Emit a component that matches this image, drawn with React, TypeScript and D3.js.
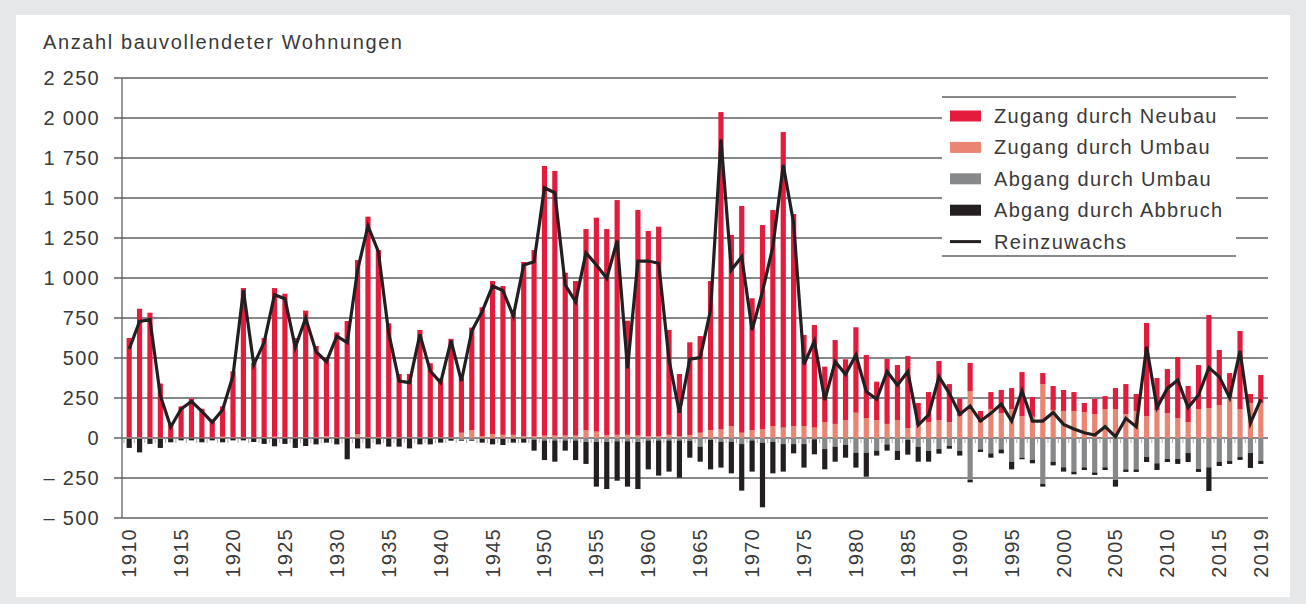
import React from 'react';
import * as d3 from 'd3';

// Jahre 1910–2019
const years = d3.range(1910, 2020);

// Zugang durch Neubau
const neubau = [
  620, 803, 778, 337, 93, 195, 243, 180, 112, 190,
  412, 932, 464, 620, 929, 897, 620, 791, 570, 494,
  655, 726, 1087, 1378, 1170, 712, 395, 395, 670, 462,
  368, 615, 342, 640, 807, 956, 930, 765, 1090, 1165,
  1685, 1654, 1018, 966, 1256, 1337, 1287, 1467, 713, 1410,
  1284, 1311, 655, 390, 579, 604, 931, 1983, 1194, 1417,
  823, 1275, 1350, 1847, 1325, 569, 641, 346, 524, 380,
  534, 394, 240, 406, 344, 450, 138, 187, 369, 237,
  109, 175, 69, 108, 146, 131, 275, 123, 69, 150,
  131, 118, 57, 94, 81, 131, 187, 106, 582, 200,
  275, 381, 225, 275, 582, 344, 156, 488, 56, 175,
];

// Zugang durch Umbau
const zugangUmbau = [
  5, 5, 5, 3, 2, 3, 3, 3, 3, 8,
  5, 5, 5, 5, 8, 5, 5, 5, 5, 10,
  5, 5, 25, 5, 5, 5, 5, 5, 5, 5,
  5, 5, 33, 50, 10, 25, 20, 20, 10, 10,
  15, 15, 15, 15, 50, 40, 19, 20, 20, 15,
  10, 10, 20, 10, 19, 33, 50, 54, 75, 33,
  50, 56, 75, 65, 75, 75, 65, 100, 88, 112,
  158, 125, 112, 88, 112, 62, 81, 100, 112, 100,
  137, 294, 100, 179, 154, 181, 137, 133, 337, 175,
  169, 169, 162, 150, 181, 181, 150, 169, 137, 175,
  156, 125, 100, 181, 187, 206, 250, 181, 219, 219,
];

// Abgang durch Umbau (Betrag)
const abgangUmbau = [
  5, 5, 5, 5, 3, 3, 3, 3, 3, 3,
  3, 3, 3, 3, 3, 3, 3, 3, 3, 3,
  3, 3, 3, 3, 3, 3, 3, 3, 3, 3,
  3, 5, 12, 12, 5, 5, 5, 5, 5, 10,
  15, 15, 15, 15, 25, 25, 25, 20, 20, 25,
  15, 15, 15, 15, 17, 54, 12, 23, 23, 38,
  15, 29, 23, 38, 38, 38, 8, 69, 54, 42,
  92, 92, 79, 40, 81, 12, 54, 81, 69, 50,
  81, 262, 71, 96, 71, 148, 123, 137, 287, 148,
  183, 210, 183, 215, 183, 262, 196, 196, 119, 158,
  131, 131, 94, 194, 183, 148, 144, 119, 94, 144,
];

// Abgang durch Abbruch (Betrag)
const abgangAbbruch = [
  57, 85, 32, 57, 24, 12, 12, 24, 12, 24,
  12, 12, 22, 34, 49, 34, 59, 47, 37, 26,
  37, 130, 62, 62, 37, 51, 51, 62, 37, 37,
  26, 12, 5, 5, 24, 35, 39, 24, 24, 69,
  123, 133, 64, 123, 137, 279, 294, 247, 284, 294,
  181, 220, 195, 233, 106, 94, 184, 162, 198, 291,
  195, 404, 198, 172, 58, 147, 94, 127, 94, 81,
  93, 150, 31, 39, 56, 92, 94, 67, 29, 17,
  29, 15, 16, 27, 25, 48, 10, 21, 17, 23,
  27, 17, 17, 16, 17, 42, 16, 16, 31, 42,
  19, 31, 56, 18, 148, 27, 18, 18, 93, 18,
];

// Reinzuwachs
const reinzuwachs = [
  556, 729, 740, 265, 69, 181, 229, 167, 98, 177,
  390, 923, 458, 598, 896, 871, 567, 750, 540, 477,
  637, 596, 1050, 1325, 1164, 654, 356, 346, 648, 419,
  346, 608, 356, 669, 790, 950, 921, 762, 1081, 1102,
  1564, 1533, 956, 852, 1158, 1081, 998, 1233, 435, 1106,
  1106, 1092, 487, 158, 492, 502, 800, 1866, 1050, 1133,
  675, 915, 1196, 1706, 1342, 460, 606, 237, 477, 398,
  519, 290, 242, 415, 331, 415, 81, 144, 383, 279,
  148, 200, 106, 154, 212, 106, 294, 106, 106, 160,
  85, 56, 33, 19, 71, 8, 123, 71, 571, 190,
  310, 362, 190, 269, 440, 383, 252, 544, 92, 242,
];

const yTicks = [-500, -250, 0, 250, 500, 750, 1000, 1250, 1500, 1750, 2000, 2250];
const xLabels = [1910, 1915, 1920, 1925, 1930, 1935, 1940, 1945, 1950, 1955, 1960,
  1965, 1970, 1975, 1980, 1985, 1990, 1995, 2000, 2005, 2010, 2015, 2019];

const legendItems = [
  { label: 'Zugang durch Neubau', color: '#e31c3d', type: 'rect' },
  { label: 'Zugang durch Umbau', color: '#ea8573', type: 'rect' },
  { label: 'Abgang durch Umbau', color: '#87888a', type: 'rect' },
  { label: 'Abgang durch Abbruch', color: '#231f20', type: 'rect' },
  { label: 'Reinzuwachs', color: '#231f20', type: 'line' },
];

const W = 1306;
const H = 604;
const FONT = '"Liberation Sans", Arial, sans-serif';
const TEXT = '#3a3a3a';
const GRID = '#5f6062';

// "2 250", "– 250"
const fmtTick = (t: number) => {
  const s = d3.format(',')(Math.abs(t)).replace(/,/g, ' ');
  return t < 0 ? '– ' + s : s;
};

export default function App() {
  const x = d3.scaleBand<number>()
    .domain(years)
    .range([124, 1266])
    .paddingInner(0.5)
    .paddingOuter(0.25);

  const y = d3.scaleLinear().domain([-500, 2250]).range([518, 78]);
  const bw = x.bandwidth();
  const cx = (yr: number) => (x(yr) || 0) + bw / 2;

  const line = d3.line<number>()
    .x((_, i) => cx(years[i]))
    .y(d => y(d));

  const textStyle = { fontFamily: FONT, fontSize: 20, letterSpacing: 1.3, fill: TEXT } as const;

  return (
    <svg width={W} height={H} style={{ position: 'absolute', left: 0, top: 0 }}>
      <rect x={0} y={0} width={W} height={H} fill="#e6e7e8" />
      <rect x={16} y={15} width={1274} height={582} fill="#ffffff" />

      {/* title */}
      <text x={43} y={49} {...textStyle} letterSpacing={1.6}>Anzahl bauvollendeter Wohnungen</text>

      {/* gridlines + y labels */}
      {yTicks.map(t => (
        <g key={t}>
          <line x1={114} x2={1268} y1={y(t)} y2={y(t)} stroke={GRID} strokeWidth={1.3} />
          <text x={100} y={y(t)} dy="0.35em" textAnchor="end" {...textStyle}>{fmtTick(t)}</text>
        </g>
      ))}
      <line x1={122} x2={122} y1={y(2250)} y2={y(-500)} stroke={GRID} strokeWidth={1.3} />

      {/* small ticks on the zero line */}
      {years.map(yr => (
        <line key={'t' + yr} x1={(x(yr) || 0) - (x.step() - bw) / 2} x2={(x(yr) || 0) - (x.step() - bw) / 2}
          y1={y(0)} y2={y(0) + 5} stroke="#a7a9ac" strokeWidth={1} />
      ))}

      {/* bars */}
      {years.map((yr, i) => {
        const bx = x(yr) || 0;
        const u = zugangUmbau[i];
        const n = neubau[i];
        const g = abgangUmbau[i];
        const a = abgangAbbruch[i];
        return (
          <g key={yr}>
            <rect x={bx} width={bw} y={y(u)} height={y(0) - y(u)} fill="#ea8573" />
            <rect x={bx} width={bw} y={y(u + n)} height={y(u) - y(u + n)} fill="#e31c3d" />
            <rect x={bx} width={bw} y={y(0)} height={y(-g) - y(0)} fill="#87888a" />
            <rect x={bx} width={bw} y={y(-g)} height={y(-g - a) - y(-g)} fill="#231f20" />
          </g>
        );
      })}

      {/* Reinzuwachs */}
      <path d={line(reinzuwachs) || ''} fill="none" stroke="#231f20" strokeWidth={3.2} strokeLinejoin="miter" />

      {/* x labels */}
      {xLabels.map(yr => (
        <text key={'l' + yr} transform={`translate(${cx(yr)},528) rotate(-90)`} dy="0.35em"
          textAnchor="end" {...textStyle}>{yr}</text>
      ))}

      {/* legend */}
      <rect x={942} y={97} width={294} height={159} fill="#ffffff" />
      <line x1={942} x2={1236} y1={97} y2={97} stroke={GRID} strokeWidth={1.3} />
      <line x1={942} x2={1236} y1={256} y2={256} stroke={GRID} strokeWidth={1.3} />
      {legendItems.map((it, i) => {
        const cy = 116 + i * 31.4;
        return (
          <g key={it.label}>
            {it.type === 'rect'
              ? <rect x={950} y={cy - 5.5} width={31} height={11} fill={it.color} />
              : <line x1={950} x2={981} y1={cy} y2={cy} stroke={it.color} strokeWidth={3} />}
            <text x={994} y={cy} dy="0.35em" {...textStyle}>{it.label}</text>
          </g>
        );
      })}
    </svg>
  );
}
